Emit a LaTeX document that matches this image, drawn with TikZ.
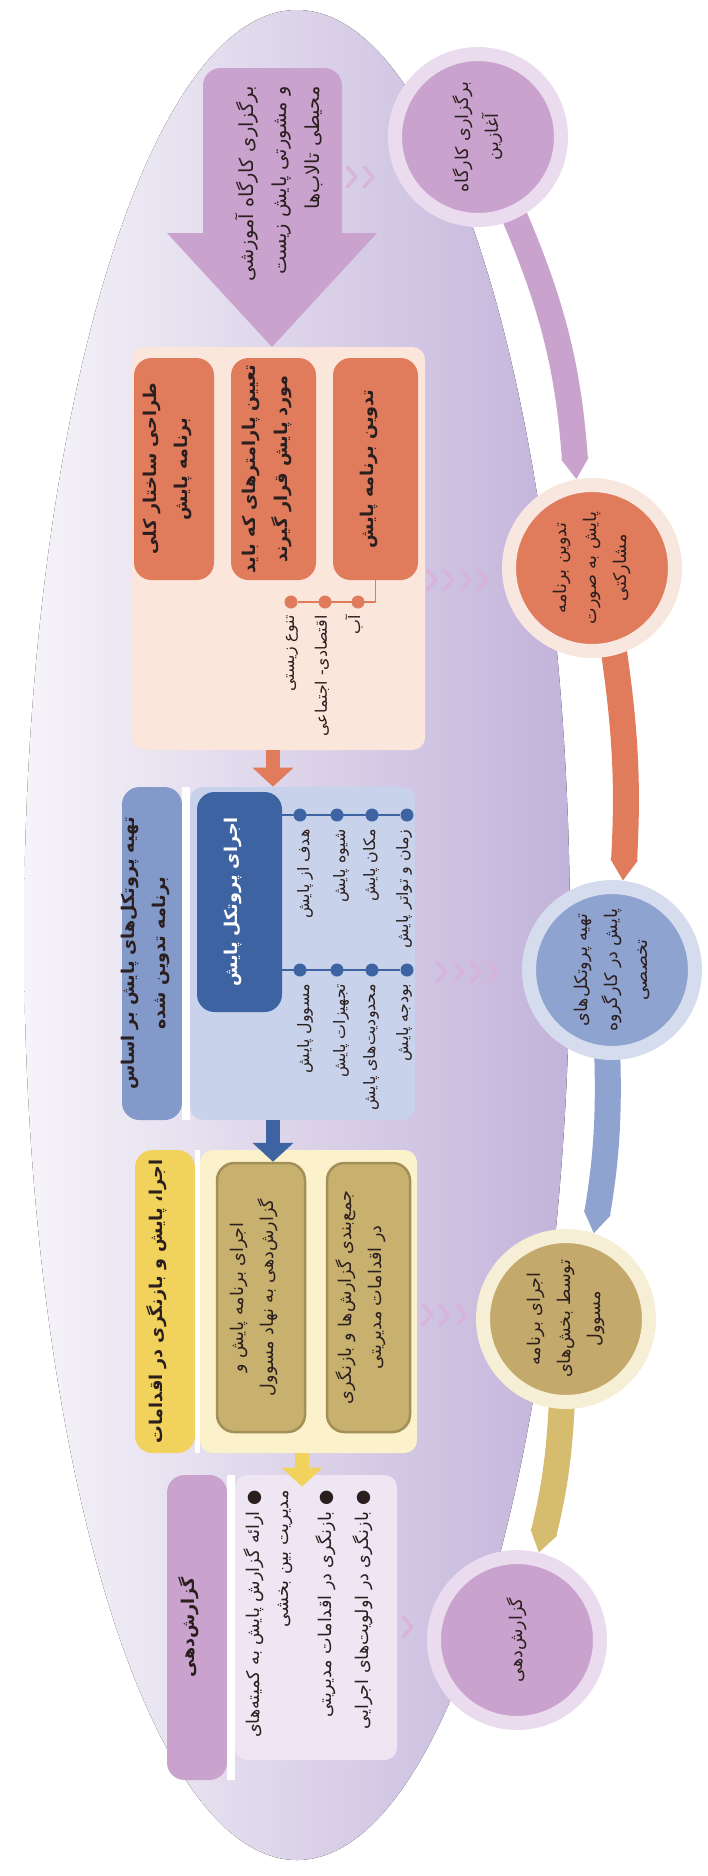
\documentclass[tikz,border=0pt]{standalone}
\usepackage{fontspec}
\newfontfamily\arabicfont[Script=Arabic]{DejaVu Sans}
\TeXXeTstate=1
\usetikzlibrary{positioning,calc,fit,arrows.meta,backgrounds}
\newcommand\rl[1]{\beginR #1\endR}

\definecolor{ink}{HTML}{2B1E1E}
\definecolor{bglite}{HTML}{F6F4F9}
\definecolor{bgdeep}{HTML}{C2B3DA}
\definecolor{lilac}{HTML}{C9A3CE}
\definecolor{lilacring}{HTML}{EADBEE}
\definecolor{peach}{HTML}{FBE6DB}
\definecolor{terra}{HTML}{E07B5C}
\definecolor{terraring}{HTML}{F7E7DE}
\definecolor{bluehead}{HTML}{8299CA}
\definecolor{bluebody}{HTML}{C8D2EA}
\definecolor{bluedeep}{HTML}{3E63A2}
\definecolor{bluecirc}{HTML}{8FA3D0}
\definecolor{bluering}{HTML}{D5DCEE}
\definecolor{gold}{HTML}{F0D25C}
\definecolor{cream}{HTML}{FBF1CB}
\definecolor{khaki}{HTML}{C8B16E}
\definecolor{khakiedge}{HTML}{A38F58}
\definecolor{khakicirc}{HTML}{C3AA6C}
\definecolor{khakiring}{HTML}{F6EFD6}
\definecolor{sand}{HTML}{D6BC6E}
\definecolor{mauvebody}{HTML}{EEE6F2}
\definecolor{chevcol}{HTML}{D9B2DA}

\begin{document}
\begin{tikzpicture}[x=0.02cm, y=-0.02cm, line join=round,
  txt/.style={font=\arabicfont\fontsize{10}{17}\selectfont, text=ink, align=center, inner sep=0pt},
  boldtxt/.style={txt, font=\arabicfont\bfseries\fontsize{10}{18}\selectfont},
  panel/.style={inner sep=0pt, rounded corners=0.25cm},
  tbox/.style={boldtxt, rounded corners=0.35cm, rotate fit=90},
  lbl/.style={txt, font=\arabicfont\fontsize{9}{14}\selectfont, rotate=90, anchor=east},
  dot/.style={circle, fill=#1, inner sep=0pt, minimum size=0.26cm},
  stage/.style 2 args={txt, circle, fill=#1, draw=#2, line width=0.28cm, minimum size=3.32cm, rotate=90},
  band/.style={draw=#1, line width=0.52cm, -{Triangle[length=0.42cm, width=0pt 1]}},
  blockarrow/.style={draw=#1, line width=0.28cm, -{Triangle[length=0.38cm, width=0.8cm]}},
  chev/.style={chevcol, line width=0.07cm, opacity=0.85, line cap=round}
]
\useasboundingbox (0,0) rectangle (707,1876);

% stages on the track
\node[stage={lilac}{lilacring}] (cStart) at (478,137) {\rl{برگزاری کارگاه}\\\rl{آغازین}};
\node[stage={terra}{terraring}] (cPlan) at (592,568) {\rl{تدوین برنامه}\\\rl{پایش به صورت}\\\rl{مشارکتی}};
\node[stage={bluecirc}{bluering}] (cProto) at (612,970) {\rl{تهیه پروتکل‌های}\\\rl{پایش در کارگروه}\\\rl{تخصصی}};
\node[stage={khakicirc}{khakiring}] (cRun) at (566,1319) {\rl{اجرای برنامه}\\\rl{توسط بخش‌های}\\\rl{مسوول}};
\node[stage={lilac}{lilacring}] (cReport) at (517,1640) {\rl{گزارش‌دهی}};

\begin{scope}[on background layer]
\fill[left color=bglite, right color=bgdeep] (297,935) ellipse [x radius=273, y radius=925];
% anchors turn with the node (rotate=90)
\draw[band=lilac] ($(cStart)!0.7!(cStart.-155)$) to[bend left=10] (cPlan.10);
\draw[band=terra] ($(cPlan)!0.7!(cPlan.-163)$) to[bend left=6] (cProto.-7);
\draw[band=bluecirc] ($(cProto)!0.7!(cProto.-185)$) to[bend left=6] (cRun.-18);
\draw[band=sand] ($(cRun)!0.7!(cRun.177)$) to[bend left=6] (cReport.-14);
\end{scope}

\foreach \x/\y/\n in {347/177/2, 427/580/4, 437/972/4, 423/1315/3, 403/1627/1}
  \foreach \k in {1,...,\n}
    \draw[chev] (\x+17*\k-17,\y-10) -- ++(9,10) -- ++(-9,10);

% workshop arrow
\fill[lilac, rounded corners=0.35cm] (203,68) rectangle (342,255);
\fill[lilac] (167,233) -- (377,233) -- (272,347) -- cycle;
\node[txt, font=\arabicfont\fontsize{11}{19}\selectfont, rotate=90, anchor=east, align=right] (workshop) at (279,86)
  {\rl{برگزاری کارگاه آموزشی}\\\rl{و مشورتی پایش زیست}\\\rl{محیطی تالاب‌ها}};

% planning
\node[panel, fill=peach, fit={(132,347) (425,750)}] (opanel) {};
\node[tbox, fill=terra, fit={(134,358) (214,580)}] (design) {\rl{طراحی ساختار کلی}\\\rl{برنامه پایش}};
\node[tbox, fill=terra, fit={(231,358) (316,580)}] (params) {\rl{تعیین پارامترهای که باید}\\\rl{مورد پایش قرار گیرند}};
\node[tbox, fill=terra, fit={(333,358) (418,580)}] (plan) {\rl{تدوین برنامه پایش}};
\node[dot=terra] (o1) at (358,602) {};
\node[dot=terra] (o2) at (325,602) {};
\node[dot=terra] (o3) at (291,602) {};
\draw[terra, line width=0.03cm] (plan.west) |- (o3);
\node[lbl] (water) at ($(o1)+(-4,13)$) {\rl{آب}};
\node[lbl] (socio) at ($(o2)+(-3,13)$) {\rl{اقتصادی- اجتماعی}};
\node[lbl] (biodiv) at ($(o3)+(1,13)$) {\rl{تنوع زیستی}};

% protocols
\node[tbox, fill=bluehead, fit={(122,787) (182,1120)}] (bhead)
  {\rl{تهیه پروتکل‌های پایش بر اساس}\\\rl{برنامه تدوین شده}};
\node[panel, fill=bluebody, fit={(190,787) (415,1120)}] (bbody) {};
\fill[white] (bhead.south west) rectangle (bbody.north west);
\node[tbox, fill=bluedeep, text=white, fit={(197,792) (282,1012)}] (runproto) {\rl{اجرای پروتکل پایش}};
\foreach \i/\x in {1/300,2/337,3/372,4/407} {
  \node[dot=bluedeep] (t\i) at (\x,815) {};
  \node[dot=bluedeep] (u\i) at (\x,970) {};
}
\draw[bluedeep, line width=0.03cm] (runproto.south |- t1) -- (t4);
\draw[bluedeep, line width=0.03cm] (runproto.south |- u1) -- (u4);
\node[lbl] (aim) at ($(t1)+(5,14)$) {\rl{هدف از پایش}};
\node[lbl] (method) at ($(t2)+(4,14)$) {\rl{شیوه پایش}};
\node[lbl] (place) at ($(t3)+(-1,14)$) {\rl{مکان پایش}};
\node[lbl] (freq) at ($(t4)+(-3,14)$) {\rl{زمان و تواتر پایش}};
\node[lbl] (resp) at ($(u1)+(5,14)$) {\rl{مسوول پایش}};
\node[lbl] (equip) at ($(u2)+(4,14)$) {\rl{تجهیزات پایش}};
\node[lbl] (limits) at ($(u3)+(-1,14)$) {\rl{محدودیت‌های پایش}};
\node[lbl] (budget) at ($(u4)+(-3,14)$) {\rl{بودجه پایش}};

% execution
\node[tbox, fill=gold, fit={(135,1150) (195,1453)}] (yhead)
  {\rl{اجرا، پایش و بازنگری در اقدامات}};
\node[panel, fill=cream, fit={(200,1150) (417,1453)}] (ybody) {};
\fill[white] (yhead.south west) rectangle (ybody.north west);
\node[tbox, txt, fill=khaki, draw=khakiedge, line width=0.05cm, fit={(217,1163) (305,1432)}] (execute)
  {\rl{اجرای برنامه پایش و}\\\rl{گزارش‌دهی به نهاد مسوول}};
\node[tbox, txt, fill=khaki, draw=khakiedge, line width=0.05cm, fit={(327,1163) (410,1432)}] (review)
  {\rl{جمع‌بندی گزارش‌ها و بازنگری}\\\rl{در اقدامات مدیریتی}};

% reporting
\node[tbox, fill=lilac, fit={(167,1475) (227,1780)}] (phead) {\rl{گزارش‌دهی}};
\node[panel, fill=mauvebody, fit={(235,1475) (397,1760)}] (pbody) {};
\fill[white] (phead.south west) rectangle (pbody.north west);
\node[txt, rotate=90, anchor=north east, align=right] (bullets) at (243,1490)
  {\rl{● ارائه گزارش پایش به کمیته‌های}\\\rl{مدیریت بین بخشی}\\[7pt]\rl{● بازنگری در اقدامات مدیریتی}\\[4pt]\rl{● بازنگری در اولویت‌های اجرایی}};

% arrows between steps
\coordinate (ax) at (273,0);
\coordinate (ay) at (302,0);
\draw[blockarrow=terra] (opanel.south -| ax) -- (bbody.north -| ax);
\draw[blockarrow=bluedeep] (bbody.south -| ax) -- (execute.east -| ax);
\draw[blockarrow=gold] (ybody.south -| ay) -- ($(pbody.north -| ay)+(0,12)$);
\end{tikzpicture}
\end{document}
